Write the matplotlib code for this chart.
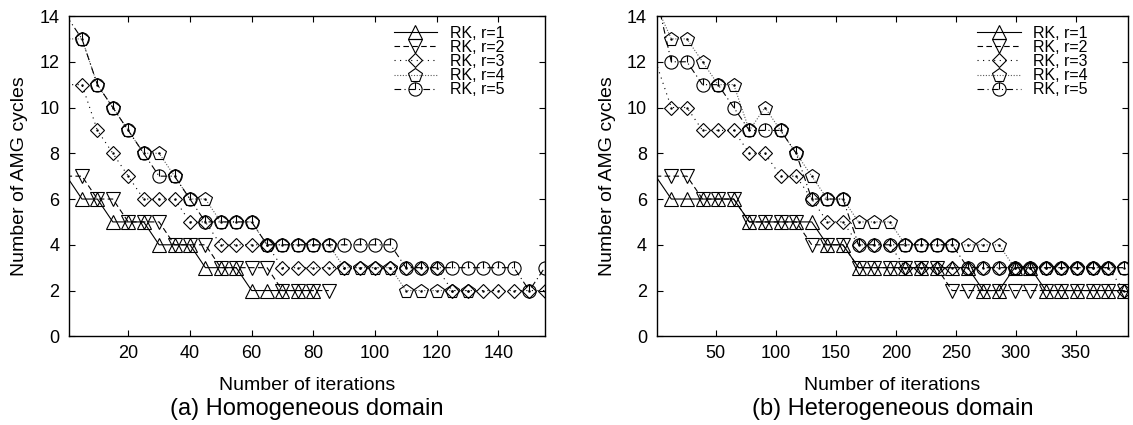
import numpy as np
import matplotlib.pyplot as plt
from matplotlib.path import Path

plt.rcParams['font.family'] = ['Liberation Sans', 'DejaVu Sans']

# dominio omogeneo: iterazioni (marker ogni 5)
it_a = [0, 5, 10, 15, 20, 25, 30, 35, 40, 45, 50, 55, 60, 65, 70, 75, 80, 85,
        90, 95, 100, 105, 110, 115, 120, 125, 130, 135, 140, 145, 150, 155]
r1_a = [7, 6, 6, 5, 5, 5, 4, 4, 4, 3, 3, 3, 2, 2, 2, 2, 2]
r2_a = [7, 7, 6, 6, 5, 5, 5, 4, 4, 4, 3, 3, 3, 3, 2, 2, 2, 2]
r3_a = [11, 11, 9, 8, 7, 6, 6, 6, 5, 5, 4, 4, 4, 4, 3, 3, 3, 3, 3, 3, 3, 3,
        3, 3, 3, 2, 2, 2, 2, 2, 2, 2]
r4_a = [13, 13, 11, 10, 9, 8, 8, 7, 6, 6, 5, 5, 5, 4, 4, 4, 4, 4, 3, 3, 3, 3,
        2, 2, 2, 2, 2]
r5_a = [14, 13, 11, 10, 9, 8, 7, 7, 6, 5, 5, 5, 5, 4, 4, 4, 4, 4, 4, 4, 4, 4,
        3, 3, 3, 3, 3, 3, 3, 3, 2, 3]

# dominio eterogeneo (marker ogni 13)
it_b = [0, 13, 26, 39, 52, 65, 78, 91, 104, 117, 130, 143, 156, 169, 182, 195,
        208, 221, 234, 247, 260, 273, 286, 299, 312, 325, 338, 351, 364, 377, 390]
r1_b = [7, 6, 6, 6, 6, 6, 5, 5, 5, 5, 5, 4, 4, 3, 3, 3, 3, 3, 3, 3, 3, 2, 2,
        3, 3, 2, 2, 2, 2, 2, 2]
r2_b = [7, 7, 7, 6, 6, 6, 5, 5, 5, 5, 4, 4, 4, 3, 3, 3, 3, 3, 3, 2, 2, 2, 2,
        2, 2, 2, 2, 2, 2, 2, 2]
r3_b = [12, 10, 10, 9, 9, 9, 8, 8, 7, 7, 6, 5, 5, 4, 4, 4, 3, 3, 3, 3, 3, 3, 3,
        3, 3, 3, 3, 3, 3, 3, 2]
r4_b = [14.5, 13, 13, 12, 11, 11, 9, 10, 9, 8, 7, 6, 6, 5, 5, 5, 4, 4, 4, 4, 4,
        4, 4, 3, 3, 3, 3, 3, 3, 3, 3]
r5_b = [15, 12, 12, 11, 11, 10, 9, 9, 9, 8, 6, 6, 6, 4, 4, 4, 4, 4, 4, 4, 3, 3,
        3, 3, 3, 3, 3, 3, 3, 3, 3]

labels = ['RK, r=1', 'RK, r=2', 'RK, r=3', 'RK, r=4', 'RK, r=5']

# cerchio con trattino verticale (stile gnuplot)
circ = Path.make_compound_path(Path.unit_circle(),
                               Path([(0, 0), (0, 1)], [Path.MOVETO, Path.LINETO]))

stili = [
    dict(ls='-', marker='^', ms=10, color='k'),
    dict(ls=(0, (5, 3)), marker='v', ms=10, color='k'),
    dict(ls=(0, (1, 4)), marker='D', ms=7, color='k'),
    dict(ls=(0, (1, 1.5)), marker='p', ms=10, color='0.35'),
    dict(ls=(0, (6, 3, 1, 3)), marker=circ, ms=9.5, color='k'),
]
punto = [False, False, True, True, False]

fig = plt.figure(figsize=(11.33, 4.25), dpi=100)
ax1 = fig.add_axes([0.0609, 0.2087, 0.4199, 0.7536])
ax2 = fig.add_axes([0.5796, 0.2087, 0.416, 0.7536])


def disegna(ax, it, serie, xlim, xticks):
    for y, st, lab, p in zip(serie, stili, labels, punto):
        x = it[:len(y)]
        ax.plot(x, y, lw=0.8, mfc='none', mec='k', mew=0.8,
                markevery=list(range(1, len(y))), label=lab, **st)
        if p:
            ax.plot(x[1:], y[1:], ls='none', marker='.', ms=1.5, color='k')
    ax.set_xlim(*xlim)
    ax.set_ylim(0, 14)
    ax.set_xticks(xticks)
    ax.set_yticks(range(0, 15, 2))
    ax.tick_params(direction='in', top=True, right=True, length=4,
                   width=0.8, labelsize=13)
    ax.tick_params(axis='x', pad=6)
    ax.tick_params(axis='y', pad=7)
    for s in ax.spines.values():
        s.set_linewidth(1)
    ax.set_xlabel('Number of iterations', fontsize=14, labelpad=11)
    ax.set_ylabel('Number of AMG cycles', fontsize=14, labelpad=8)
    ax.legend(loc='upper right', bbox_to_anchor=(0.915, 0.97), frameon=False,
              fontsize=11.5, handlelength=2.7, handletextpad=0.8,
              labelspacing=-0.05, borderpad=0, borderaxespad=0)


disegna(ax1, it_a, [r1_a, r2_a, r3_a, r4_a, r5_a], (0.8, 155), range(20, 141, 20))
disegna(ax2, it_b, [r1_b, r2_b, r3_b, r4_b, r5_b], (0.8, 393.5), range(50, 351, 50))

fig.text(0.0609 + 0.4199 / 2, 0.037, '(a) Homogeneous domain', ha='center',
         va='center', fontsize=17)
fig.text(0.5796 + 0.416 / 2, 0.037, '(b) Heterogeneous domain', ha='center',
         va='center', fontsize=17)

plt.savefig('out.png', dpi=100)
